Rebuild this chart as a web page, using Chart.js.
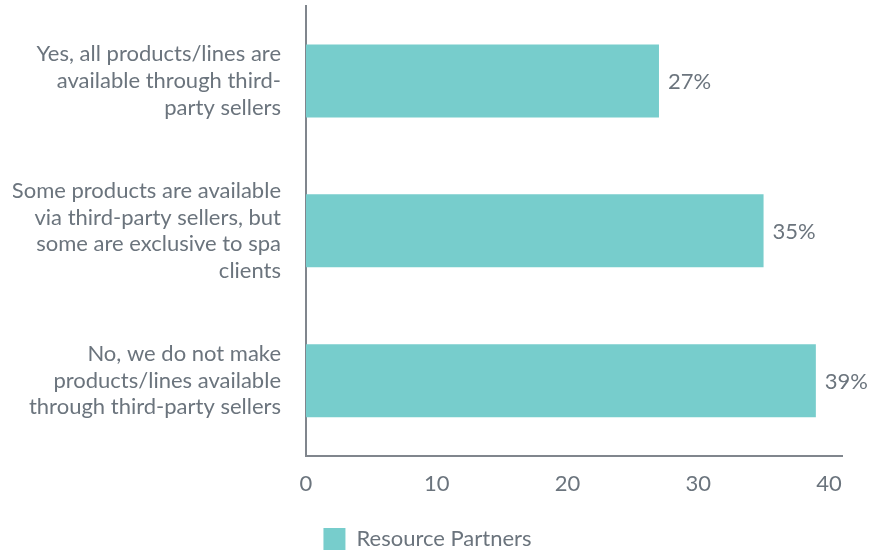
<!DOCTYPE html>
<html>
<head>
<meta charset="utf-8">
<script src="https://cdn.jsdelivr.net/npm/chart.js@4"></script>
<style>
  html, body { margin: 0; padding: 0; background: #fff; }
  #wrap { width: 870px; height: 552px; }
</style>
</head>
<body>
<div id="wrap"><canvas id="myChart"></canvas></div>
<script>
const answers = [
  ['Yes, all products/lines are', 'available through third-', 'party sellers'],
  ['Some products are available', 'via third-party sellers, but', 'some are exclusive to spa', 'clients'],
  ['No, we do not make', 'products/lines available', 'through third-party sellers']
]
const partners = [27, 35, 39]
const xTicks = [0, 10, 20, 30, 40]

const grey = '#6b747d'
const axisGrey = '#80868d'
const teal = '#77cdcc'

// percent text at the end of each bar
const valueLabels = {
  id: 'valueLabels',
  afterDatasetsDraw(chart) {
    const ctx = chart.ctx
    const meta = chart.getDatasetMeta(0)
    ctx.save()
    ctx.font = '22px Lato'
    ctx.fillStyle = grey
    ctx.textAlign = 'left'
    ctx.textBaseline = 'middle'
    meta.data.forEach((bar, i) => {
      ctx.fillText(partners[i] + '%', bar.x + 9, bar.y + 1)
    })
    ctx.restore()
  }
}

const ctx = document.getElementById('myChart')

new Chart(ctx, {
  type: 'bar',
  data: {
    labels: answers,
    datasets: [{
      label: 'Resource Partners',
      data: partners,
      backgroundColor: teal,
      categoryPercentage: 1,
      barPercentage: 0.487
    }]
  },
  options: {
    indexAxis: 'y',
    responsive: true,
    maintainAspectRatio: false,
    animation: false,
    layout: { padding: { left: 13, right: 28, top: 6, bottom: -8 } },
    scales: {
      x: {
        min: 0,
        max: 41,
        afterBuildTicks(scale) {
          scale.ticks = xTicks.map(v => ({ value: v }))
        },
        // leave a gap between the tick numbers and the legend
        afterFit(scale) {
          scale.height += 16
        },
        grid: { display: false, drawTicks: false },
        border: { display: true, color: axisGrey, width: 2 },
        ticks: { color: grey, font: { family: 'Lato', size: 22 }, padding: 15 }
      },
      y: {
        // labels sit in the middle of each band, so no extra room at the ends
        afterFit(scale) {
          scale.paddingTop = 0
          scale.paddingBottom = 0
          scale.width = 293
        },
        grid: { display: false, drawTicks: false },
        border: { display: true, color: axisGrey, width: 2 },
        ticks: {
          color: grey,
          font: { family: 'Lato', size: 22, lineHeight: 1.21 },
          padding: 25
        }
      }
    },
    plugins: {
      legend: {
        position: 'bottom',
        labels: {
          color: grey,
          font: { family: 'Lato', size: 22 },
          boxWidth: 22,
          boxHeight: 22,
          padding: 0
        }
      },
      tooltip: { enabled: false }
    }
  },
  plugins: [valueLabels]
})
</script>
</body>
</html>
